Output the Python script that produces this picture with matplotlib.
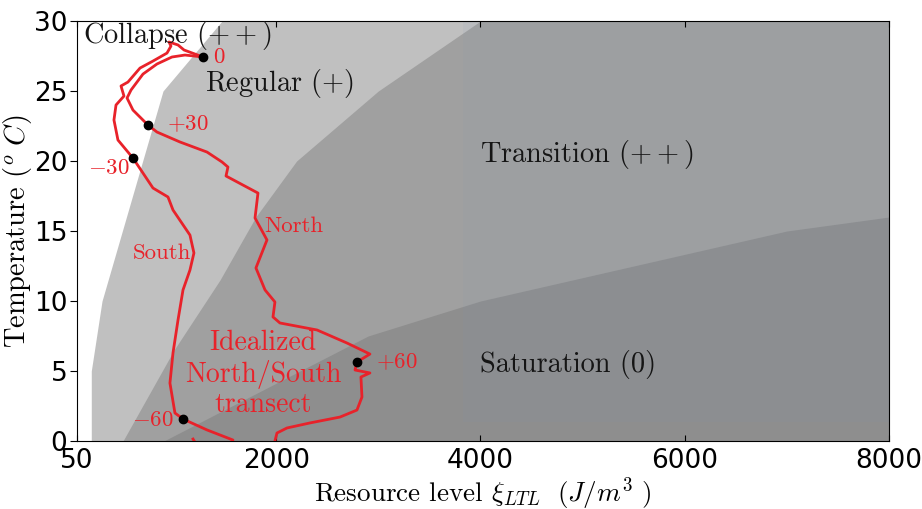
import matplotlib
matplotlib.use("Agg")
import matplotlib.pyplot as plt
import numpy as np

plt.rcParams['mathtext.fontset'] = 'cm'
plt.rcParams['axes.unicode_minus'] = False

# region boundaries (resource level at given temperature)
regular_T = [0, 5, 10, 25, 30]
regular_x = [190, 190, 295, 892, 1470]
trans_T = [0, 6.5, 11.5, 16, 20, 25, 30]
trans_x = [500, 1000, 1450, 1800, 2200, 3000, 4000]
satur_T = [0, 7.5, 10, 15, 16]
satur_x = [900, 2900, 4000, 7000, 8000]

# idealized transect, south pole -> equator
south_x = [1186, 1235, 1528, 1577, 1323, 1088, 1009, 960, 990, 1039, 1088, 1156, 1195,
           1156, 990, 941, 794, 598, 451, 412, 432, 510, 481, 549, 667, 794, 931, 970,
           951, 1039, 1098, 1284]
south_T = [0.14, -0.43, -0.43, 0.07, 0.79, 1.57, 2.0, 4.14, 6.29, 8.64, 10.79, 12.21, 13.43,
           14.71, 16.5, 17.43, 18.07, 20.21, 21.5, 22.93, 24.0, 24.64, 25.36, 25.64, 26.64,
           27.14, 27.71, 28.21, 28.5, 28.29, 27.93, 27.43]
# equator -> north pole
north_x = [1284, 1107, 980, 833, 696, 579, 540, 598, 745, 833, 1058, 1323, 1470, 1528, 1509,
           1822, 1793, 1910, 1802, 1891, 1988, 1969, 2037, 2400, 2693, 2918, 2791, 2772,
           2918, 2830, 2840, 2791, 2625, 2331, 2106, 2008, 1988]
north_T = [27.43, 27.57, 27.43, 26.93, 26.21, 25.07, 24.5, 23.64, 22.57, 22.07, 21.36, 20.64,
           19.93, 19.57, 18.93, 17.71, 15.93, 14.36, 12.36, 10.79, 9.93, 8.86, 8.43, 7.93,
           7.0, 6.21, 5.64, 5.07, 4.86, 4.57, 3.14, 2.21, 1.71, 1.29, 0.93, 0.57, 0.0]

lat_labels = ['$-60$', '$-30$', '$0$', '$+30$', '$+60$']
lat_x = [1088, 598, 1284, 745, 2791]
lat_T = [1.57, 20.21, 27.43, 22.57, 5.64]

red = '#e8222a'

fig = plt.figure(figsize=(9.22, 5.09), dpi=100)
ax = fig.add_axes([0.0835, 0.1336, 0.8807, 0.8251])

ax.fill_betweenx(regular_T, regular_x, 8000, color='#c0c0c0', lw=0, zorder=0)
ax.fill_betweenx(trans_T, trans_x, 8000, color='#a0a0a0', lw=0, zorder=0.1)
ax.fill_betweenx(satur_T, satur_x, 8000, color='#8e8e8e', lw=0, zorder=0.2)
ax.fill_between([3830, 8000], 1.35, 30, color=(0.5, 0.6, 0.72), alpha=0.08, lw=0, zorder=0.3)

ax.plot(south_x, south_T, color=red, lw=2, zorder=3)
ax.plot(north_x, north_T, color=red, lw=2, zorder=3)
ax.plot(lat_x, lat_T, 'o', color='k', ms=6, zorder=4)

tf = dict(family='cmr10', color=red)
ax.text(1000, 1.5, lat_labels[0], ha='right', va='center', fontsize=16.5, **tf)
ax.text(569, 19.5, lat_labels[1], ha='right', va='center', fontsize=16.5, **tf)
ax.text(1380, 27.43, lat_labels[2], ha='left', va='center', fontsize=16.5, **tf)
ax.text(931, 22.64, lat_labels[3], ha='left', va='center', fontsize=16.5, **tf)
ax.text(2977, 5.64, lat_labels[4], ha='left', va='center', fontsize=16.5, **tf)
ax.text(882, 13.43, 'South', ha='center', va='center', fontsize=16.5, **tf)
ax.text(2174, 15.36, 'North', ha='center', va='center', fontsize=16.5, **tf)
ax.text(1871, 4.79, 'Idealized\nNorth/South\ntransect', ha='center', va='center',
        fontsize=20, linespacing=1.15, **tf)

kf = dict(family='cmr10', color='#151515', fontsize=20.4)
ax.text(109, 29.0, 'Collapse $(++)$', ha='left', va='center', **kf)
ax.text(1303, 25.57, 'Regular $(+)$', ha='left', va='center', **kf)
ax.text(4000, 20.5, 'Transition $(++)$', ha='left', va='center', **kf)
ax.text(4000, 5.5, 'Saturation (0)', ha='left', va='center', **kf)

ax.set_xlim(50, 8000)
ax.set_ylim(0, 30)
ax.set_xticks([50, 2000, 4000, 6000, 8000])
ax.set_yticks([0, 5, 10, 15, 20, 25, 30])
ax.tick_params(axis='x', direction='in', top=True, length=4, labelsize=19, pad=5)
ax.tick_params(axis='y', direction='out', right=False, length=5, labelsize=19, pad=2)
for lab in ax.get_xticklabels() + ax.get_yticklabels():
    lab.set_family('DejaVu Sans')

ax.set_xlabel(r'Resource level $\xi_{LTL}\ \ (J/m^3\ )$', family='cmr10', fontsize=19.5, labelpad=1)
ax.set_ylabel(r'Temperature $(^o\ C)$', family='cmr10', fontsize=20.5, labelpad=0)

fig.savefig('out.png', dpi=100)
